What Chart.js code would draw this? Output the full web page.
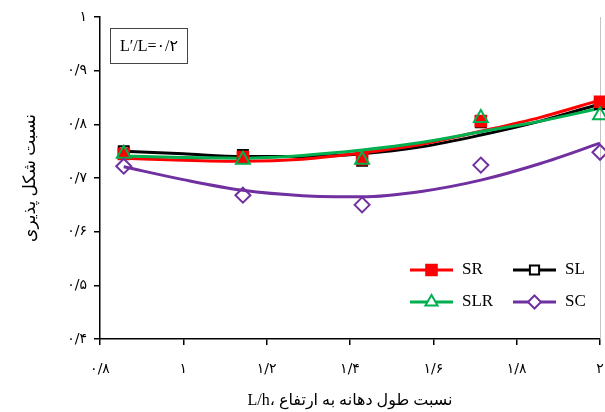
<!DOCTYPE html>
<html><head><meta charset="utf-8">
<script src="https://cdn.jsdelivr.net/npm/chart.js@4.4.1/dist/chart.umd.min.js"></script>
<style>html,body{margin:0;padding:0;background:#fff;} #wrap{width:605px;height:412px;position:relative;}</style>
</head><body><div id="wrap"><canvas id="c" width="605" height="412"></canvas></div>
<script>
// Data points (markers)
const xPoints = [0.857, 1.143, 1.429, 1.714, 2.0];
const srValues  = [0.745, 0.739, 0.735, 0.806, 0.842];
const slValues  = [0.750, 0.743, 0.732, 0.804, 0.838];
const slrValues = [0.745, 0.734, 0.734, 0.812, 0.817];
const scValues  = [0.722, 0.668, 0.650, 0.724, 0.748];

// Trend curves
const trendX   = [0.857, 1.0, 1.143, 1.286, 1.429, 1.571, 1.714, 1.857, 2.0];
const srTrend  = [0.737, 0.733, 0.731, 0.735, 0.747, 0.763, 0.787, 0.813, 0.845];
const slrTrend = [0.741, 0.738, 0.737, 0.742, 0.752, 0.766, 0.786, 0.806, 0.830];
const slTrend  = [0.750, 0.745, 0.740, 0.740, 0.745, 0.758, 0.780, 0.806, 0.838];
const scTrend  = [0.721, 0.697, 0.677, 0.667, 0.665, 0.675, 0.696, 0.727, 0.765];

const xTickLabels = ['۰/۸','۱','۱/۲','۱/۴','۱/۶','۱/۸','۲'];
const yTickLabels = ['۰/۴','۰/۵','۰/۶','۰/۷','۰/۸','۰/۹','۱'];
const seriesNames = ['SR','SL','SLR','SC'];
const xTitle = 'L/h، نسبت طول دهانه به ارتفاع';
const yTitle = 'نسبت شکل پذیری';
const boxLabel = 'L′/L=۰/۲';

const RED = '#FF0000', BLACK = '#000000', GREEN = '#00B050', PURPLE = '#7030A0';
const pts = (xs, ys) => xs.map((x, i) => ({x, y: ys[i]}));

function markerDs(label, ys, color, style, radius, fill) {
  return { label, data: pts(xPoints, ys), showLine: false, pointStyle: style,
    pointRadius: radius, pointHoverRadius: radius, pointBorderColor: color,
    pointBackgroundColor: fill, pointBorderWidth: 2, clip: false };
}
function lineDs(label, ys, color) {
  return { label, data: pts(trendX, ys), showLine: true, borderColor: color,
    borderWidth: 3, pointRadius: 0, cubicInterpolationMode: 'monotone', fill: false, clip: false };
}

const SERIF = "'Liberation Serif', 'DejaVu Sans', serif";
const SANS = "'DejaVu Sans', sans-serif";

function drawMarker(ctx, style, x, y, r, color, fill) {
  ctx.save();
  ctx.strokeStyle = color; ctx.fillStyle = fill; ctx.lineWidth = 2;
  ctx.beginPath();
  if (style === 'rect') { const s = Math.SQRT1_2 * r; ctx.rect(x - s, y - s, 2*s, 2*s); }
  else if (style === 'triangle') {
    ctx.moveTo(x, y - r);
    ctx.lineTo(x + r*Math.sin(2*Math.PI/3), y - r*Math.cos(2*Math.PI/3));
    ctx.lineTo(x + r*Math.sin(4*Math.PI/3), y - r*Math.cos(4*Math.PI/3));
    ctx.closePath();
  } else if (style === 'rectRot') {
    ctx.moveTo(x, y - r); ctx.lineTo(x + r, y); ctx.lineTo(x, y + r); ctx.lineTo(x - r, y); ctx.closePath();
  }
  ctx.fill(); ctx.stroke();
  ctx.restore();
}

const decor = {
  id: 'decor',
  beforeDatasetsDraw(chart) {
    const ctx = chart.ctx, a = chart.chartArea;
    ctx.save();
    ctx.strokeStyle = '#c4c4c4'; ctx.lineWidth = 1;
    ctx.beginPath(); ctx.moveTo(a.right + 0.5, a.top); ctx.lineTo(a.right + 0.5, a.bottom); ctx.stroke();
    ctx.restore();
  },
  afterDatasetsDraw(chart) {
    const ctx = chart.ctx;
    ctx.save();
    // label box
    ctx.strokeStyle = '#444'; ctx.lineWidth = 1;
    ctx.strokeRect(110.5, 28.5, 77, 35);
    ctx.fillStyle = '#000'; ctx.font = "16px " + SERIF; ctx.textAlign = 'center'; ctx.textBaseline = 'middle';
    ctx.fillText(boxLabel, 149, 47);
    // legend
    const items = [
      {name: seriesNames[0], color: RED, style: 'rect', r: 7.5, fill: RED, x: 410, y: 270},
      {name: seriesNames[1], color: BLACK, style: 'rect', r: 6.5, fill: '#fff', x: 513, y: 270},
      {name: seriesNames[2], color: GREEN, style: 'triangle', r: 7, fill: '#fff', x: 410, y: 302},
      {name: seriesNames[3], color: PURPLE, style: 'rectRot', r: 6.5, fill: '#fff', x: 513, y: 302}
    ];
    ctx.font = "17px " + SERIF; ctx.textAlign = 'left'; ctx.textBaseline = 'middle';
    items.forEach(it => {
      ctx.strokeStyle = it.color; ctx.lineWidth = 3;
      ctx.beginPath(); ctx.moveTo(it.x, it.y); ctx.lineTo(it.x + 43, it.y); ctx.stroke();
      drawMarker(ctx, it.style, it.x + 21.5, it.y, it.r, it.color, it.fill);
      ctx.fillStyle = '#000';
      ctx.fillText(it.name, it.x + 52, it.y);
    });
    ctx.restore();
  }
};

new Chart(document.getElementById('c'), {
  type: 'scatter',
  data: { datasets: [
    markerDs('SC', scValues, PURPLE, 'rectRot', 7.5, 'rgba(255,255,255,0)'),
    markerDs('SLR', slrValues, GREEN, 'triangle', 8, 'rgba(255,255,255,0)'),
    markerDs('SR', srValues, RED, 'rect', 7.5, RED),
    markerDs('SL', slValues, BLACK, 'rect', 7, 'rgba(255,255,255,0)'),
    lineDs('SC fit', scTrend, PURPLE),
    lineDs('SLR fit', slrTrend, GREEN),
    lineDs('SR fit', srTrend, RED),
    lineDs('SL fit', slTrend, BLACK)
  ]},
  options: {
    responsive: false, animation: false,
    layout: { autoPadding: false, padding: { left: 0, right: 5, top: 17, bottom: 0 } },
    plugins: { legend: { display: false }, tooltip: { enabled: false } },
    scales: {
      x: {
        type: 'linear', min: 0.8, max: 2,
        border: { color: '#000', width: 1.5 },
        grid: { drawOnChartArea: false, drawTicks: true, tickLength: 6, color: '#000', lineWidth: 1.5 },
        ticks: { stepSize: 0.2, color: '#000', padding: 16, maxRotation: 0, font: { family: SANS, size: 14 },
          callback: (v, i) => xTickLabels[i] },
        title: { display: true, text: xTitle, color: '#000', font: { family: SERIF, size: 16 }, padding: { top: 0, bottom: 2 } },
        afterFit: s => { s.height = 73; s.paddingLeft = 0; s.paddingRight = 0; }
      },
      y: {
        type: 'linear', min: 0.4, max: 1,
        border: { color: '#000', width: 1.5 },
        grid: { drawOnChartArea: false, drawTicks: true, tickLength: 6, color: '#000', lineWidth: 1.5 },
        ticks: { stepSize: 0.1, color: '#000', padding: 7, font: { family: SANS, size: 14 },
          callback: (v, i) => yTickLabels[i] },
        title: { display: true, text: yTitle, color: '#000', font: { family: SERIF, size: 17 }, padding: { top: 20, bottom: 0 } },
        afterFit: s => { s.width = 100; s.paddingTop = 0; s.paddingBottom = 0; }
      }
    }
  },
  plugins: [decor]
});
</script></body></html>
